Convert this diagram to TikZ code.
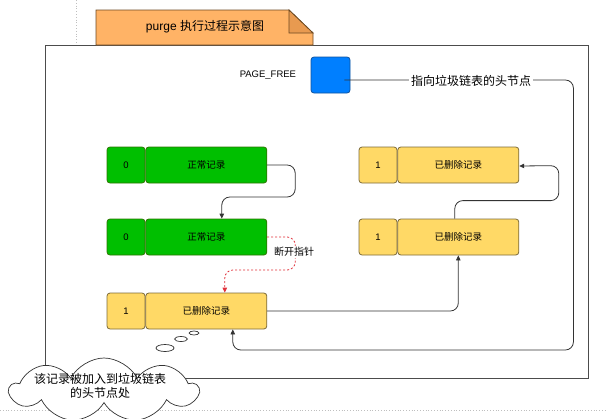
\documentclass[tikz,border=0pt]{standalone}
\usepackage{fontspec}
\setmainfont{Liberation Sans}
\newfontfamily\cjk{Noto Sans CJK SC}
\usepackage{xcolor}
\usetikzlibrary{positioning, arrows.meta, shapes.symbols}
\definecolor{recgreen}{HTML}{00BF00}
\definecolor{recgreenline}{HTML}{2D7600}
\definecolor{recyellow}{HTML}{FFD966}
\definecolor{recyellowline}{HTML}{7D6B3A}
\definecolor{headblue}{HTML}{007FFF}
\definecolor{headblueline}{HTML}{10539E}
\definecolor{taborange}{HTML}{FFB366}
\definecolor{tabfold}{HTML}{E89A50}
\definecolor{tabline}{HTML}{6E4A22}
\definecolor{linkgray}{HTML}{333333}
\definecolor{breakred}{HTML}{E0303A}

\begin{document}
\begin{tikzpicture}[x=1pt, y=-1pt,
    cell/.style={draw, rounded corners=3pt, minimum height=36pt, inner sep=0pt, line width=0.8pt, font=\fontsize{9.5}{11}\selectfont},
    numcell/.style={cell, minimum width=38pt},
    textcell/.style={cell, minimum width=121pt, font=\cjk\fontsize{9.5}{11}\selectfont},
    okrec/.style={fill=recgreen, draw=recgreenline},
    delrec/.style={fill=recyellow, draw=recyellowline},
    link/.style={draw=linkgray, line width=0.8pt, rounded corners=8pt, -{Triangle[length=5pt,width=4.5pt]}},
    pageline/.style={draw=black!25, dotted, line width=0.8pt}]

    \useasboundingbox (0,0) rectangle (607,418);

    \draw[pageline] (76,0) -- (76,45);
    \draw[pageline] (0,410) -- (607,410);
    \draw[pageline] (76,410) -- (76,418);

    \draw[draw=black!70, line width=1pt] (45,45) rectangle (588,378);

    \draw[draw=tabline, fill=taborange, line width=0.8pt] (96,10) -- (289,10) -- (313,33) -- (313,45) -- (96,45) -- cycle;
    \draw[draw=tabline, fill=tabfold, line width=0.8pt] (289,10) -- (289,33) -- (313,33) -- cycle;
    \node[font=\fontsize{12}{14}\selectfont] (title) at (205,27) {purge {\cjk 执行过程示意图}};

    \node[draw=headblueline, fill=headblue, rounded corners=3pt, line width=0.8pt, minimum width=39pt, minimum height=36pt] (head) at (330.5,75) {};
    \node[font=\fontsize{9.5}{11}\selectfont, left=11pt of head] (pagefree) {PAGE\_FREE};

    \node[numcell, okrec] (g1n) at (126,165) {0};
    \node[textcell, okrec, right=0pt of g1n] (g1) {正常记录};
    \node[numcell, okrec] (g2n) at (126,237) {0};
    \node[textcell, okrec, right=0pt of g2n] (g2) {正常记录};
    \node[numcell, delrec] (d1n) at (126,311) {1};
    \node[textcell, delrec, right=0pt of d1n] (d1) {已删除记录};
    \node[numcell, delrec] (d2n) at (378,237) {1};
    \node[textcell, delrec, right=0pt of d2n] (d2) {已删除记录};
    \node[numcell, delrec] (d3n) at (378,165) {1};
    \node[textcell, delrec, right=0pt of d3n] (d3) {已删除记录};

    \draw[link] (g1.east) -- ++(28,0) -- ++(0,32) -| ([xshift=15.5pt]g2.north);
    \draw[link, draw=breakred, dash pattern=on 2pt off 2pt] (g2.east) -- ++(28,0) -- ++(0,33) -| ([xshift=18.5pt]d1.north);
    \node[fill=white, font=\cjk\fontsize{10}{12}\selectfont, inner sep=1pt] (breaklabel) at (294,252) {断开指针};
    \draw[link] (d1.east) -| (d2.south);
    \draw[link] ([xshift=-3.5pt]d2.north) -- ++(0,-18) -- ++(104,0) -- ++(0,-35) -- ([yshift=-1pt]d3.east);

    \draw[link] ([shift={(-6pt,-5pt)}]head.east) -- ++(229,0) -- ++(0,270) -| ([xshift=26.5pt]d1.south);
    \node[fill=white, font=\cjk\fontsize{12}{14}\selectfont, inner sep=2pt] (headlabel) at (471,81) {指向垃圾链表的头节点};

    % thought bubble
    \draw[draw=black!80, fill=white, line width=0.7pt] (194,333) ellipse [x radius=5, y radius=2];
    \draw[draw=black!80, fill=white, line width=0.7pt] (181,339) ellipse [x radius=6.5, y radius=2.5];
    \draw[draw=black!80, fill=white, line width=0.7pt] (165,348) ellipse [x radius=9, y radius=3.5];
    \node[cloud, cloud puffs=9, cloud puff arc=125, aspect=3, draw=black!80, fill=white, line width=0.7pt, minimum width=188pt, minimum height=64pt, inner sep=0pt] (note) at (104,390) {};
    \node[align=center, font=\cjk\fontsize{12}{14}\selectfont] (notetext) at (100,386) {该记录被加入到垃圾链表\\的头节点处};
\end{tikzpicture}
\end{document}
